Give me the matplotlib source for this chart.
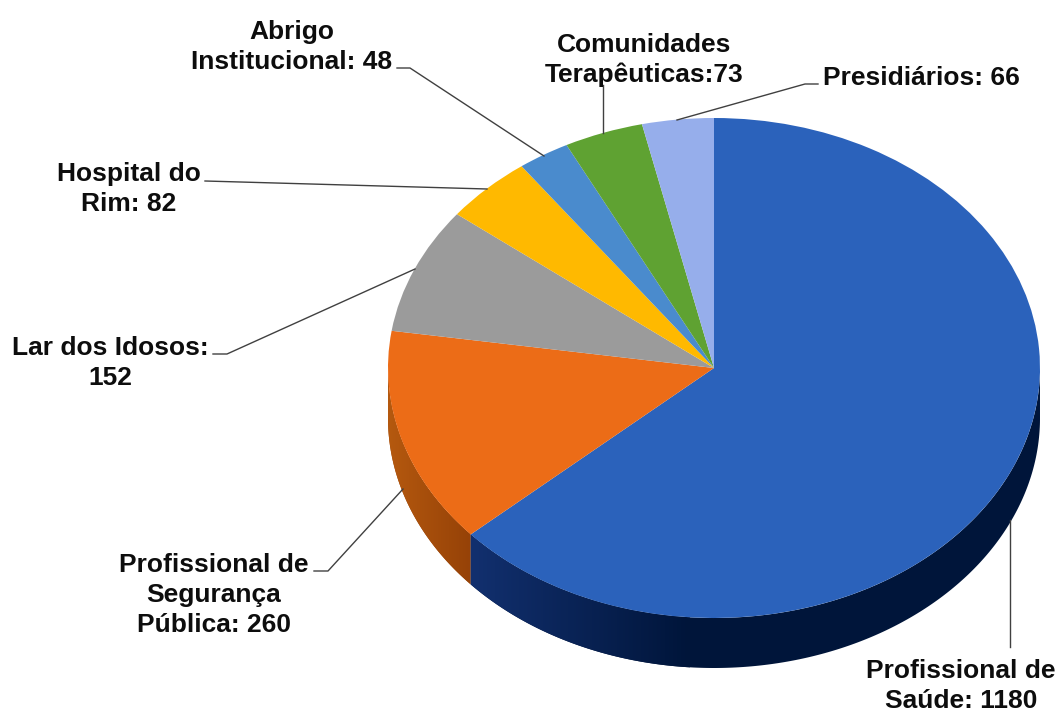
import matplotlib
matplotlib.use('Agg')
import matplotlib.pyplot as plt
from matplotlib.colors import LinearSegmentedColormap
from matplotlib.patches import Polygon
import numpy as np

# dados
categorias = ['Profissional de\nSaúde: 1180', 'Profissional de\nSegurança\nPública: 260',
              'Lar dos Idosos:\n152', 'Hospital do\nRim: 82', 'Abrigo\nInstitucional: 48',
              'Comunidades\nTerapêuticas:73', 'Presidiários: 66']
valores = [1180, 260, 152, 82, 48, 73, 66]
cores = ['#2b62bb', '#ec6c17', '#9b9b9b', '#ffb900', '#4a8bcd', '#5fa232', '#96aeeb']

# geometria em pixels da imagem
W, H = 1060, 711
cx, cy, rx, ry, prof = 714, 368, 326, 250, 50
# posicao dos rotulos (centro) e linhas de chamada, em pixels
pos_rotulos = [(961, 686), (214, 595), (110, 363), (129, 189), (292, 47), (644, 60), (921, 78)]
chamadas = [[(1010, 520), (1010, 647)],
            [(403, 489), (328, 571), (314, 571)],
            [(415, 269), (227, 354), (213, 354)],
            [(487, 189), (205, 181)],
            [(544, 156), (410, 68), (397, 68)],
            [(603, 133), (603, 85)],
            [(677, 120), (805, 84), (818, 84)]]


def px(x, y):
    return (x - cx) / rx, (cy - y) / ry


fig = plt.figure(figsize=(W / 100, H / 100), dpi=100)
ax = fig.add_axes([0, 0, 1, 1])

ax.pie(valores, colors=cores, startangle=90, counterclock=False, radius=1, center=(0, 0),
       wedgeprops={'linewidth': 0}, frame=False)
for p in ax.patches:
    p.set_zorder(3)

# lateral do "3D"
d = prof / ry
fim = 90 - np.cumsum(valores) / sum(valores) * 360
ini = np.r_[90, fim[:-1]]


def lateral(a0, a1, c_esq, c_dir, x_esq, x_dir):
    angs = np.radians(np.linspace(a0, a1, 400))
    angs = angs[np.sin(angs) <= 0]
    xs, ys = np.cos(angs), np.sin(angs)
    verts = np.c_[np.r_[xs, xs[::-1]], np.r_[ys, ys[::-1] - d]]
    faixa = Polygon(verts, closed=True, transform=ax.transData, fc='none', ec='none')
    ax.add_patch(faixa)
    cmap = LinearSegmentedColormap.from_list('lat', [c_esq, c_dir])
    img = ax.imshow(np.linspace(0, 1, 256)[None, :], cmap=cmap, aspect='auto', zorder=2,
                    extent=(x_esq, x_dir, verts[:, 1].min(), verts[:, 1].max()))
    # o gradiente acaba em x_dir, o resto da faixa fica na cor final
    faixa.set_facecolor(c_dir)
    faixa.set_zorder(1.5)
    img.set_clip_path(faixa)


lateral(fim[0], ini[0], '#12306f', '#00153a', px(470, 0)[0], px(690, 0)[0])
lateral(fim[1], ini[1], '#b5590f', '#964207', px(388, 0)[0], px(470, 0)[0])

ax.set_aspect('auto')
ax.set_xlim(px(0, 0)[0], px(W, 0)[0])
ax.set_ylim(px(0, H)[1], px(0, 0)[1])
ax.axis('off')

# linhas de chamada
for linha in chamadas:
    xy = np.array([px(*p) for p in linha])
    ax.plot(xy[:, 0], xy[:, 1], color='#404040', lw=1.0, zorder=4)

# rotulos
for txt, (x, y) in zip(categorias, pos_rotulos):
    ax.text(*px(x, y), txt, ha='center', va='center', family='Liberation Sans',
            fontweight='bold', fontsize=19, color='#0d0d0d', linespacing=1.3, zorder=5)

fig.savefig('out.png', dpi=100, facecolor='white')
